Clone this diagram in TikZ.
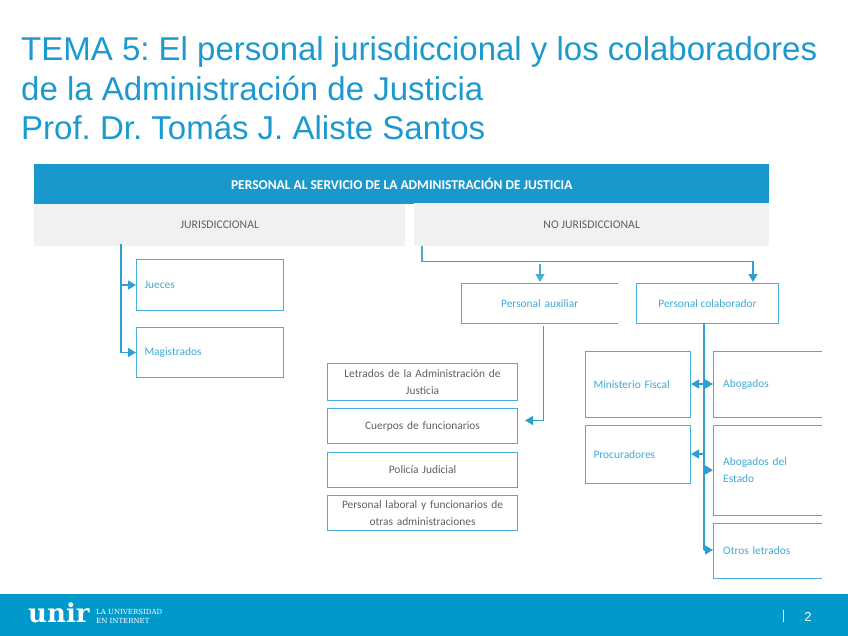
\documentclass[tikz,border=0pt]{standalone}
\usepackage{fontspec}
\setmainfont{Liberation Sans}
\newfontfamily\bodyf{Carlito}
\newfontfamily\logof{DejaVu Serif}
\frenchspacing
\definecolor{titleblue}{HTML}{1C9AD0}
\definecolor{headblue}{HTML}{1B98CB}
\definecolor{greybg}{HTML}{F1F1F1}
\definecolor{linkblue}{HTML}{2E9FD0}
\definecolor{lineblue}{HTML}{45AEDB}
\definecolor{footblue}{HTML}{0099CC}
\definecolor{txtgrey}{HTML}{5F5F5F}
\definecolor{txtblue}{HTML}{3FA9D8}
\usetikzlibrary{arrows.meta,calc}
\tikzset{
 x=1pt,y=-1pt,
 ttl/.style={anchor=base west,inner sep=0,text=titleblue,font=\fontsize{33}{33}\selectfont},
 band/.style={anchor=north west,inner sep=0,font=\bodyf\fontsize{11.7}{13}\selectfont},
 greyband/.style={band,fill=greybg,text=txtgrey},
 box/.style={anchor=north west,inner sep=0,align=center,font=\bodyf\fontsize{11.4}{17}\selectfont},
 greybox/.style={box,draw=lineblue,line width=1pt,text=txtgrey},
 bluebox/.style={anchor=north west,inner ysep=0,inner xsep=8pt,align=left,draw=lineblue,line width=1pt,text=txtblue,font=\bodyf\fontsize{11.4}{17}\selectfont},
 openbox/.style={anchor=north west,inner ysep=0,inner xsep=10pt,align=left,text=txtblue,font=\bodyf\fontsize{11.4}{17}\selectfont},
 openline/.style={draw=lineblue,line width=1pt,line join=miter},
 conn/.style={draw=linkblue,line width=1.2pt,-{Triangle[length=8pt,width=9pt]}},
 plain/.style={draw=linkblue,line width=1.2pt},
}
\begin{document}
\begin{tikzpicture}
\useasboundingbox (0,0) rectangle (848,636);
% title
\node[ttl] (t1) at (21,61) {TEMA 5: El personal jurisdiccional y los colaboradores};
\node[ttl] (t2) at (21,101) {de la Administración de Justicia};
\node[ttl] (t3) at (21,140) {Prof. Dr. Tomás J. Aliste Santos};
% bands
\node[band,fill=headblue,text=white,minimum width=735pt,minimum height=40pt,font=\bodyf\bfseries\fontsize{13.5}{15}\selectfont] (head) at (34,164) {PERSONAL AL SERVICIO DE LA ADMINISTRACIÓN DE JUSTICIA};
\node[greyband,minimum width=371pt,minimum height=42pt] (jur) at (34,204) {JURISDICCIONAL};
\node[greyband,minimum width=355pt,minimum height=43pt] (nojur) at (414,203) {NO JURISDICCIONAL};
% left boxes
\node[bluebox,text width=131pt,minimum height=51pt] (jueces) at (136,259) {Jueces};
\node[bluebox,text width=131pt,minimum height=50pt] (magis) at (136,327) {Magistrados};
% personal
\node[openbox,align=center,text width=137pt,minimum height=40pt] (aux) at (461,283) {Personal auxiliar};
\draw[openline] (aux.north east) -- (aux.north west) -- (aux.south west) -- (aux.south east);
\node[box,draw=lineblue,line width=1pt,text=txtblue,minimum width=142pt,minimum height=40pt] (colab) at (636,283) {Personal colaborador};
% auxiliary boxes
\node[greybox,text width=190pt,minimum height=37pt] (letr) at (327,363) {Letrados de la Administración de\\Justicia};
\node[greybox,text width=190pt,minimum height=35pt] (cuer) at (327,408) {Cuerpos de funcionarios};
\node[greybox,text width=190pt,minimum height=35pt] (poli) at (327,452) {Policía Judicial};
\node[greybox,text width=190pt,minimum height=35pt] (labo) at (327,495) {Personal laboral y funcionarios de\\otras administraciones};
% collaborators left
\node[bluebox,text width=89pt,minimum height=66pt] (mini) at (585,351) {Ministerio Fiscal};
\node[bluebox,text width=89pt,minimum height=58pt] (proc) at (585,425) {Procuradores};
% collaborators right (open on the right)
\node[openbox,text width=89pt,minimum height=66pt] (abog) at (713,351) {Abogados};
\node[openbox,text width=89pt,minimum height=90pt] (esta) at (713,425) {Abogados del\\Estado};
\node[openbox,text width=89pt,minimum height=55pt] (otro) at (713,523) {Otros letrados};
\foreach \n in {abog,esta,otro}
  \draw[openline] (\n.north east) -- (\n.north west) -- (\n.south west) -- (\n.south east);
% connectors: jurisdiccional
\coordinate (js) at (121,244);
\draw[plain,line width=1.8pt] (js) -- (121,285);
\draw[conn] (js) |- (jueces.west);
\draw[conn] (js) |- (magis.west);
% connectors: no jurisdiccional
\coordinate (ns) at (422,246);
\coordinate (nh) at (422,261.5);
\draw[plain,draw=lineblue] (ns) -- (nh) -- (753,261.5);
\draw[conn] (nh) -| (753,282);
\draw[conn,draw=lineblue] (540,264) -- (540,282);
% connector: auxiliar
\coordinate (as) at (543.5,326);
\coordinate (ae) at (525,420.5);
\draw[conn] (as) |- (ae);
% connectors: colaborador
\coordinate (cs) at (704,323);
\coordinate (cj) at (704,454);
\draw[draw=linkblue,line width=2.6pt] (cs) -- (cj);
\draw[plain] (cj) -- (704,550);
\draw[conn,{Triangle[length=8pt,width=9pt]}-{Triangle[length=8pt,width=9pt]}] (mini.east |- 0,384) -- (abog.west |- 0,384);
\draw[conn] (cj) -- (proc.east |- cj);
\draw[conn] (704,470) -- (esta.west);
\draw[conn] (704,550) -- (otro.west |- 0,550);
% footer
\fill[footblue] (0,594) rectangle (848,636);
\node[anchor=base west,inner sep=0,text=white,font=\logof\bfseries\fontsize{26}{26}\selectfont] (unir) at (28,622) {unir};
\node[anchor=west,inner sep=0,align=left,text=white,font=\logof\fontsize{7}{9}\selectfont] (lema) at (96,616) {LA UNIVERSIDAD\\EN INTERNET};
\draw[white,line width=.8pt] (783,610) -- (783,622);
\node[anchor=center,inner sep=0,text=white,font=\fontsize{13}{13}\selectfont] (num) at (808,617) {2};
\end{tikzpicture}
\end{document}
